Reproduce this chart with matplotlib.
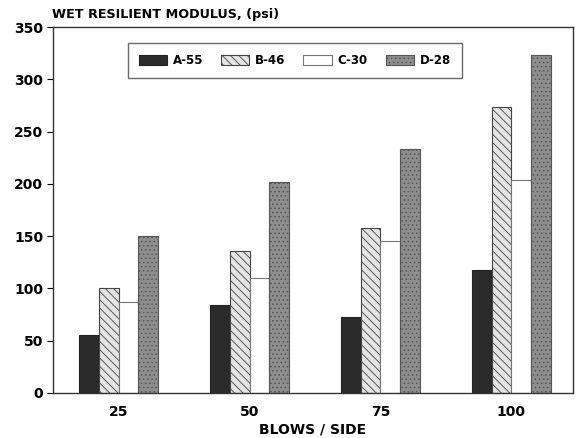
import matplotlib
matplotlib.use("Agg")
import matplotlib.pyplot as plt
import numpy as np

categories = ["25", "50", "75", "100"]
series_names = ["A-55", "B-46", "C-30", "D-28"]
a55 = [55, 84, 73, 118]
b46 = [100, 136, 158, 274]
c30 = [87, 110, 145, 204]
d28 = [150, 202, 233, 323]
y_ticks = [0, 50, 100, 150, 200, 250, 300, 350]

plt.rcParams['font.family'] = ['DejaVu Sans']
plt.rcParams['hatch.linewidth'] = 0.6

fig = plt.figure(figsize=(5.77, 4.38), dpi=100)
ax = fig.add_axes([0.092, 0.103, 0.901, 0.835])

x = np.arange(len(categories))
w = 0.15
styles = [
    dict(facecolor="#2b2b2b", edgecolor="#222222", hatch=None),
    dict(facecolor="#e4e4e4", edgecolor="#444444", hatch="\\\\\\\\"),
    dict(facecolor="white", edgecolor="#777777", hatch=None),
    dict(facecolor="#8e8e8e", edgecolor="#555555", hatch="...."),
]
data = [a55, b46, c30, d28]
for i, (vals, name, st) in enumerate(zip(data, series_names, styles)):
    ax.bar(x + (i - 1.5) * w, vals, w, label=name, linewidth=0.8, **st)

ax.set_xlim(-0.5, 3.47)
ax.set_ylim(0, 350)
ax.set_yticks(y_ticks)
ax.set_xticks(x)
ax.set_xticklabels(categories)
ax.tick_params(axis='x', length=0, pad=9)
ax.tick_params(axis='y', length=4, direction='out', pad=3)
for lbl in ax.get_xticklabels() + ax.get_yticklabels():
    lbl.set_fontweight('bold')
    lbl.set_fontsize(10)
for sp in ax.spines.values():
    sp.set_linewidth(1.0)
    sp.set_color("#333333")

ax.set_xlabel("BLOWS / SIDE", fontsize=10, fontweight='bold', labelpad=2)
fig.text(0.09, 0.968, "WET RESILIENT MODULUS, (psi)", fontsize=9.2,
         fontweight='bold', ha='left', va='center')

leg = ax.legend(loc='upper center', bbox_to_anchor=(0.465, 0.972), ncol=4,
                frameon=True, fancybox=False, edgecolor="#444444",
                handlelength=2.4, handleheight=0.9, columnspacing=1.5,
                handletextpad=0.5, borderpad=0.9,
                prop=dict(weight='bold', size=8.5))
leg.get_frame().set_linewidth(1.0)

fig.savefig("out.png", dpi=100)
